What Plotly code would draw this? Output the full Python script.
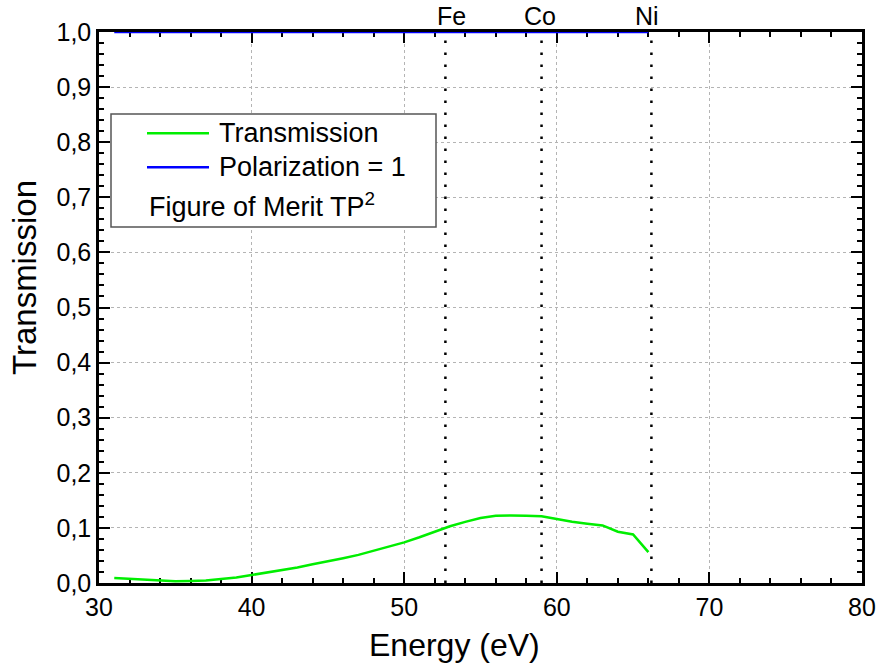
import plotly.graph_objects as go

# ---- data ----
energy = [31, 32, 33, 34, 35, 36, 37, 38, 39, 40, 41, 42, 43, 44, 45, 46, 47, 48,
          49, 50, 51, 52, 53, 54, 55, 56, 57, 58, 59, 60, 61, 62, 63, 64, 65, 66]
transmission = [0.009, 0.0075, 0.006, 0.0035, 0.003, 0.0036, 0.0047, 0.0073, 0.010,
                0.0145, 0.019, 0.024, 0.028, 0.034, 0.039, 0.045, 0.051, 0.0586,
                0.065, 0.0737, 0.083, 0.0937, 0.103, 0.111, 0.118, 0.122, 0.1227,
                0.122, 0.121, 0.116, 0.111, 0.1076, 0.1045, 0.093, 0.088, 0.056]
polarization = [1.0] * len(energy)

edge_labels = ["Fe", "Co", "Ni"]
edge_energies = [52.7, 59.0, 66.2]

x_range = [30, 80]
y_range = [0, 1.0]

legend_labels = ["Transmission", "Polarization = 1", "Figure of Merit TP<sup>2</sup>"]
x_title = "Energy (eV)"
y_title = "Transmission"

# ---- layout geometry (pixels) ----
W, H = 876, 663
ML, MR, MT, MB = 99, 14, 32, 80
PW, PH = W - ML - MR, H - MT - MB
label_xshift = [6, -2, -4]


def px(xp):
    return (xp - ML) / PW


def py(yp):
    return (H - MB - yp) / PH


FONT = "Liberation Sans, Arial, sans-serif"
GREEN = "#00ee00"
BLUE = "#0000ff"

fig = go.Figure()
fig.add_trace(go.Scatter(x=energy, y=transmission, mode="lines",
                         line=dict(color=GREEN, width=2.5), showlegend=False))
fig.add_trace(go.Scatter(x=energy, y=polarization, mode="lines",
                         line=dict(color=BLUE, width=2.5), showlegend=False,
                         cliponaxis=False))

shapes = []
annotations = []

# element edges
for lab, e, xs in zip(edge_labels, edge_energies, label_xshift):
    shapes.append(dict(type="line", xref="x", yref="y", x0=e, x1=e, y0=y_range[0], y1=y_range[1],
                       line=dict(color="black", width=2.5, dash="2.5px,9.5px"), layer="above"))
    annotations.append(dict(x=e, y=1, xref="x", yref="paper", text=lab, showarrow=False,
                            xanchor="center", yanchor="bottom", yshift=0, xshift=xs,
                            font=dict(family=FONT, size=25, color="black")))

# legend box
shapes.append(dict(type="rect", xref="paper", yref="paper",
                   x0=px(111), x1=px(436), y0=py(227), y1=py(114),
                   line=dict(color="#555555", width=1.5), fillcolor="white", layer="above"))
for yy, col in [(133.3, GREEN), (167.3, BLUE)]:
    shapes.append(dict(type="line", xref="paper", yref="paper",
                       x0=px(147), x1=px(209), y0=py(yy), y1=py(yy),
                       line=dict(color=col, width=2.5), layer="above"))
for (xx, yy), txt in zip([(217, 133.3), (217, 167.3), (147, 205)], legend_labels):
    annotations.append(dict(x=px(xx), y=py(yy), xref="paper", yref="paper", text=txt,
                            showarrow=False, xanchor="left", yanchor="middle",
                            font=dict(family=FONT, size=27, color="black")))

# axis titles
annotations.append(dict(x=px(454), y=py(645), xref="paper", yref="paper", text=x_title,
                        showarrow=False, xanchor="center", yanchor="middle",
                        font=dict(family=FONT, size=32, color="black")))
annotations.append(dict(x=px(24), y=py(278), xref="paper", yref="paper", text=y_title,
                        showarrow=False, xanchor="center", yanchor="middle", textangle=-90,
                        font=dict(family=FONT, size=33, color="black")))

axis_common = dict(
    showline=True, linecolor="black", linewidth=2.5, mirror="ticks",
    ticks="inside", ticklen=11, tickwidth=2, tickcolor="black",
    showgrid=True, gridcolor="#b4b4b4", griddash="dot", gridwidth=1,
    zeroline=False, layer="below traces", automargin=False,
    tickfont=dict(family=FONT, size=25, color="black"),
)

fig.update_xaxes(range=x_range, dtick=10, tick0=30,
                 minor=dict(dtick=2, ticks="inside", ticklen=5, tickwidth=2, tickcolor="black",
                            showgrid=False),
                 **axis_common)
fig.update_yaxes(range=y_range, dtick=0.1, tick0=0, tickformat=".1f",
                 minor=dict(dtick=0.02, ticks="inside", ticklen=5, tickwidth=2, tickcolor="black",
                            showgrid=False),
                 **axis_common)

fig.update_layout(
    template="none",
    width=W, height=H,
    margin=dict(l=ML, r=MR, t=MT, b=MB, autoexpand=False),
    paper_bgcolor="white", plot_bgcolor="white",
    separators=", ",
    shapes=shapes, annotations=annotations,
    showlegend=False,
    font=dict(family=FONT, color="black"),
)

fig.write_html("out.html")
